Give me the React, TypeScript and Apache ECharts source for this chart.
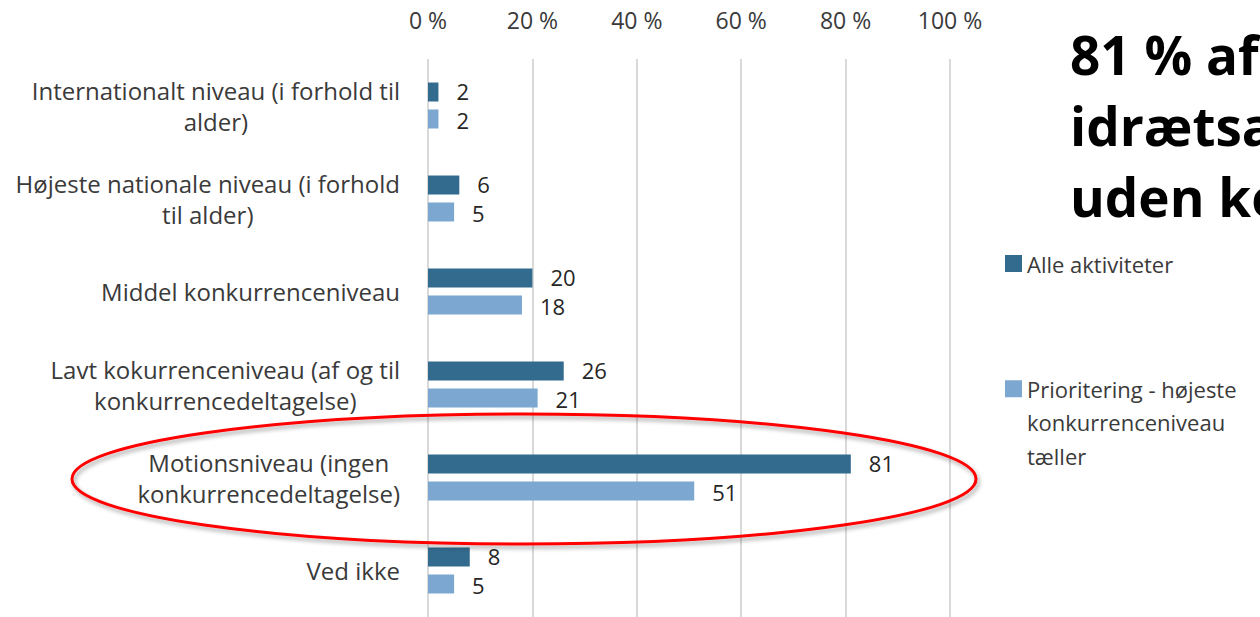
import React, { useEffect, useRef } from 'react';
import * as echarts from 'echarts';

const categories = [
  'Internationalt niveau (i forhold til\nalder)',
  'Højeste nationale niveau (i forhold\ntil alder)',
  'Middel konkurrenceniveau',
  'Lavt kokurrenceniveau (af og til\nkonkurrencedeltagelse)',
  'Motionsniveau (ingen\nkonkurrencedeltagelse)',
  'Ved ikke',
];
const seriesNames = ['Alle aktiviteter', 'Prioritering - højeste konkurrenceniveau tæller'];
const legendLines = ['Prioritering - højeste', 'konkurrenceniveau', 'tæller'];
const alleValues = [2, 6, 20, 26, 81, 8];
const prioriteringValues = [2, 5, 18, 21, 51, 5];
const xTickValues = [0, 20, 40, 60, 80, 100];
const headlineLines = ['81 % af', 'idrætsaktiviteterne', 'uden konkurrence'];

const FONT = '"Open Sans", Lato, sans-serif';
const DARK = '#336b8f';
const LIGHT = '#7ba7d0';
const TEXT = '#3a3a3a';

export default function App() {
  const ref = useRef<HTMLDivElement>(null);
  useEffect(() => {
    document.body.style.margin = '0';
    if (!ref.current) return;
    const chart = echarts.init(ref.current, undefined, { renderer: 'svg' });
    const valueLabel = (dy: number) => ({
      show: true,
      position: 'right',
      distance: 18,
      offset: [0, dy],
      fontFamily: FONT,
      fontSize: 22,
      lineHeight: 20,
      color: '#262626',
    });
    chart.setOption({
      animation: false,
      backgroundColor: '#ffffff',
      grid: { left: 428, width: 522, top: 59, bottom: -4, containLabel: false },
      xAxis: {
        type: 'value',
        position: 'top',
        min: xTickValues[0],
        max: xTickValues[xTickValues.length - 1],
        interval: 20,
        axisLine: { show: false },
        axisTick: { show: false },
        axisLabel: {
          formatter: (v: number) => `${v} %`,
          fontFamily: FONT,
          fontSize: 23,
          color: TEXT,
          margin: 28,
        },
        splitLine: { show: true, lineStyle: { color: '#d9d9d9', width: 2 } },
      },
      yAxis: {
        type: 'category',
        data: categories,
        inverse: true,
        axisLine: { show: false },
        axisTick: { show: false },
        axisLabel: {
          margin: 28,
          align: 'right',
          formatter: (v: string) => v.split('\n').map((l) => `{c|${l}}`).join('\n'),
          rich: {
            c: { align: 'center', fontFamily: FONT, fontSize: 24, color: TEXT, lineHeight: 31 },
          },
        },
      },
      legend: [
        {
          data: [seriesNames[0]],
          orient: 'vertical',
          left: 1000,
          top: 242,
          itemWidth: 17,
          itemHeight: 17,
          itemGap: 0,
          icon: 'rect',
          textStyle: { fontFamily: FONT, fontSize: 22, color: TEXT, lineHeight: 33 },
        },
        {
          data: [seriesNames[1]],
          orient: 'vertical',
          left: 1000,
          top: 300,
          itemWidth: 17,
          itemHeight: 17,
          itemGap: 0,
          icon: 'rect',
          formatter: () => '\n\n' + legendLines.join('\n'),
          textStyle: {
            fontFamily: FONT,
            fontSize: 22,
            color: TEXT,
            lineHeight: 33.5,
          },
        },
      ],
      series: [
        {
          name: seriesNames[0],
          type: 'bar',
          data: alleValues,
          barWidth: 19,
          barGap: '42%',
          itemStyle: { color: DARK },
          label: valueLabel(-1.5),
        },
        {
          name: seriesNames[1],
          type: 'bar',
          data: prioriteringValues,
          barWidth: 19,
          barGap: '42%',
          itemStyle: { color: LIGHT },
          label: valueLabel(1.5),
        },
      ],
      graphic: [
        {
          type: 'text',
          left: 1070,
          top: 19,
          z: 10,
          style: {
            text: headlineLines.join('\n'),
            font: `bold 53px ${FONT}`,
            lineHeight: 71,
            fill: '#000000',
          },
        },
        {
          type: 'ellipse',
          z: 20,
          shape: { cx: 524, cy: 479, rx: 452, ry: 65 },
          style: {
            fill: 'none',
            stroke: '#ff0000',
            lineWidth: 3,
            shadowBlur: 4,
            shadowColor: 'rgba(0,0,0,0.35)',
            shadowOffsetX: 2,
            shadowOffsetY: 3,
          },
        },
      ],
    });
    return () => chart.dispose();
  }, []);
  return <div ref={ref} style={{ width: 1260, height: 617, overflow: 'hidden' }} />;
}
